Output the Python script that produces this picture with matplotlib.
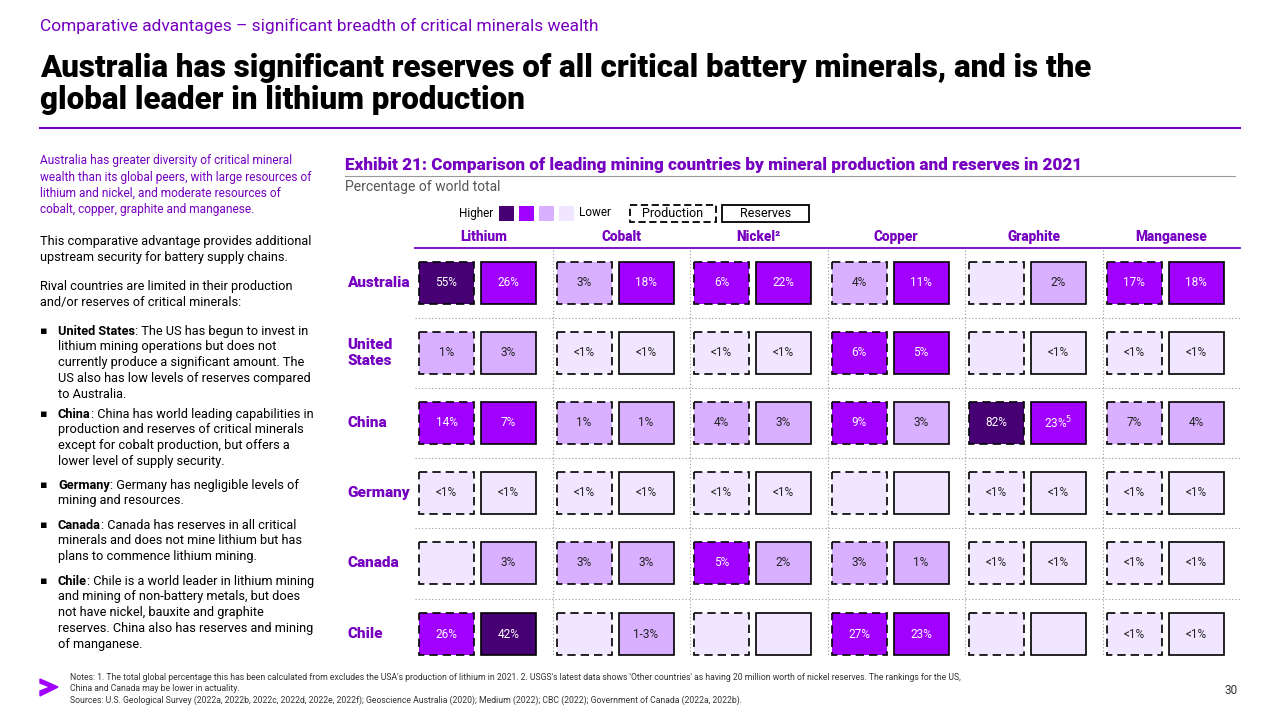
import matplotlib
matplotlib.use("Agg")
import matplotlib.pyplot as plt
from matplotlib.patches import Rectangle, Polygon

plt.rcParams['font.family'] = ['Roboto', 'DejaVu Sans']

countries = ["Australia", "United\nStates", "China", "Germany", "Canada", "Chile"]
minerals = ["Lithium", "Cobalt", "Nickel²", "Copper", "Graphite", "Manganese"]
# per country: [Li P, Li R, Co P, Co R, Ni P, Ni R, Cu P, Cu R, Gr P, Gr R, Mn P, Mn R]
labels = [
    ["55%", "26%", "3%", "18%", "6%", "22%", "4%", "11%", "", "2%", "17%", "18%"],
    ["1%", "3%", "<1%", "<1%", "<1%", "<1%", "6%", "5%", "", "<1%", "<1%", "<1%"],
    ["14%", "7%", "1%", "1%", "4%", "3%", "9%", "3%", "82%", "23%$^5$", "7%", "4%"],
    ["<1%", "<1%", "<1%", "<1%", "<1%", "<1%", "", "", "<1%", "<1%", "<1%", "<1%"],
    ["", "3%", "3%", "3%", "5%", "2%", "3%", "1%", "<1%", "<1%", "<1%", "<1%"],
    ["26%", "42%", "", "1-3%", "", "", "27%", "23%", "", "", "<1%", "<1%"],
]
# colour level 0 = lowest ... 3 = highest
levels = [
    [3, 2, 1, 2, 2, 2, 1, 2, 0, 1, 2, 2],
    [1, 1, 0, 0, 0, 0, 2, 2, 0, 0, 0, 0],
    [2, 2, 1, 1, 1, 1, 2, 1, 3, 2, 1, 1],
    [0, 0, 0, 0, 0, 0, 0, 0, 0, 0, 0, 0],
    [0, 1, 1, 1, 2, 1, 1, 1, 0, 0, 0, 0],
    [2, 3, 0, 1, 0, 0, 2, 2, 0, 0, 0, 0],
]
palette = ["#F1E6FF", "#D9B0FF", "#A100FF", "#460073"]
PURPLE = "#7500C0"

fig = plt.figure(figsize=(12.8, 7.2), dpi=100)
ax = fig.add_axes([0, 0, 1, 1])
ax.set_xlim(0, 1280); ax.set_ylim(720, 0); ax.axis("off")

ax.text(40, 26, "Comparative advantages – significant breadth of critical minerals wealth",
        color=PURPLE, fontsize=12.5, va="center")
ax.text(40, 84, "Australia has significant reserves of all critical battery minerals, and is the\nglobal leader in lithium production",
        fontsize=22.5, fontweight=900, va="center", linespacing=1.05, color="black")
ax.plot([40, 1240], [128, 128], color=PURPLE, lw=1.5)

# left text
ax.text(40, 154, "Australia has greater diversity of critical mineral\nwealth than its global peers, with large resources of\nlithium and nickel, and moderate resources of\ncobalt, copper, graphite and manganese.",
        color=PURPLE, fontsize=8.6, va="top", linespacing=1.35)
ax.text(40, 235, "This comparative advantage provides additional\nupstream security for battery supply chains.",
        fontsize=9.2, va="top", linespacing=1.3)
ax.text(40, 280, "Rival countries are limited in their production\nand/or reserves of critical minerals:",
        fontsize=9.2, va="top", linespacing=1.3)
bullets = [
    (325, "United States", ": The US has begun to invest in\nlithium mining operations but does not\ncurrently produce a significant amount. The\nUS also has low levels of reserves compared\nto Australia."),
    (408, "China", ": China has world leading capabilities in\nproduction and reserves of critical minerals\nexcept for cobalt production, but offers a\nlower level of supply security."),
    (479, "Germany", ": Germany has negligible levels of\nmining and resources."),
    (519, "Canada", ": Canada has reserves in all critical\nminerals and does not mine lithium but has\nplans to commence lithium mining."),
    (575, "Chile", ": Chile is a world leader in lithium mining\nand mining of non-battery metals, but does\nnot have nickel, bauxite and graphite\nreserves. China also has reserves and mining\nof manganese."),
]
fig.canvas.draw()
for y, b, rest in bullets:
    ax.text(40, y + 1, "▪", fontsize=8, va="top")
    t = ax.text(58, y, b, fontsize=9.2, fontweight="bold", va="top")
    lines = rest.split("\n")
    bb = t.get_window_extent(renderer=fig.canvas.get_renderer())
    ax.text(58 + bb.width, y, lines[0], fontsize=9.2, va="top")
    if len(lines) > 1:
        ax.text(58, y + 15, "\n".join(lines[1:]), fontsize=9.2, va="top", linespacing=1.3)

# exhibit header
ax.text(345, 165, "Exhibit 21: Comparison of leading mining countries by mineral production and reserves in 2021",
        color=PURPLE, fontsize=12.3, fontweight=900, va="center")
ax.plot([345, 1235], [176, 176], color="#999999", lw=0.8)
ax.text(345, 187, "Percentage of world total", color="#555555", fontsize=10, va="center")

# legend
ax.text(493, 213, "Higher", fontsize=8.5, ha="right", va="center")
for i, c in enumerate(palette[::-1]):
    ax.add_patch(Rectangle((499 + i * 20, 206), 15, 15, facecolor=c, edgecolor="none"))
ax.text(579, 213, "Lower", fontsize=8.5, va="center")
ax.add_patch(Rectangle((630, 205), 86, 17, facecolor="white", edgecolor="black", lw=1.3, ls=(0, (4, 2))))
ax.text(673, 213.5, "Production", fontsize=9, ha="center", va="center")
ax.add_patch(Rectangle((722, 205), 87, 17, facecolor="white", edgecolor="black", lw=1.3))
ax.text(765.5, 213.5, "Reserves", fontsize=9, ha="center", va="center")

# grid
x0, gw = 415, 137.5
row_y = [283, 353, 423, 493, 563, 634]
ax.plot([x0, x0 + 6 * gw], [248, 248], color=PURPLE, lw=1.3)
for j, m in enumerate(minerals):
    ax.text(x0 + gw * j + gw / 2, 237, m, color=PURPLE, fontsize=9.8, fontweight=900, ha="center", va="center")
    if j > 0:
        ax.plot([x0 + gw * j] * 2, [250, 656], color="#999999", lw=0.8, ls=(0, (1, 2)))
for i in range(1, 6):
    yy = (row_y[i - 1] + row_y[i]) / 2
    ax.plot([x0, x0 + 6 * gw], [yy, yy], color="#999999", lw=0.8, ls=(0, (1, 2)))

cw, ch = 55, 42
for i, cname in enumerate(countries):
    cy = row_y[i]
    ax.text(347, cy, cname, color=PURPLE, fontsize=11, fontweight=900, va="center", linespacing=1.1)
    for k in range(12):
        j, p = divmod(k, 2)
        cx = x0 + gw * j + 4 + p * 62
        lvl = levels[i][k]
        ax.add_patch(Rectangle((cx, cy - ch / 2), cw, ch, facecolor=palette[lvl], edgecolor="black",
                               lw=1.2, ls=(0, (5, 3)) if p == 0 else "-"))
        ax.text(cx + cw / 2, cy, labels[i][k], fontsize=8.5, ha="center", va="center",
                color="white" if lvl >= 2 else "#222222")

# footer
ax.add_patch(Polygon([[40, 679], [58, 687], [40, 696], [40, 691], [50, 687], [40, 683]], closed=True, color="#A100FF"))
ax.text(70, 689, "Notes: 1. The total global percentage this has been calculated from excludes the USA's production of lithium in 2021. 2. USGS's latest data shows 'Other countries' as having 20 million worth of nickel reserves. The rankings for the US,\nChina and Canada may be lower in actuality.\nSources: U.S. Geological Survey (2022a, 2022b, 2022c, 2022d, 2022e, 2022f); Geoscience Australia (2020); Medium (2022); CBC (2022); Government of Canada (2022a, 2022b).",
        fontsize=6.2, va="center", linespacing=1.3, color="#333333")
ax.text(1238, 691, "30", fontsize=8.5, ha="right", va="center", color="#333333")

fig.savefig("out.png", dpi=100)
